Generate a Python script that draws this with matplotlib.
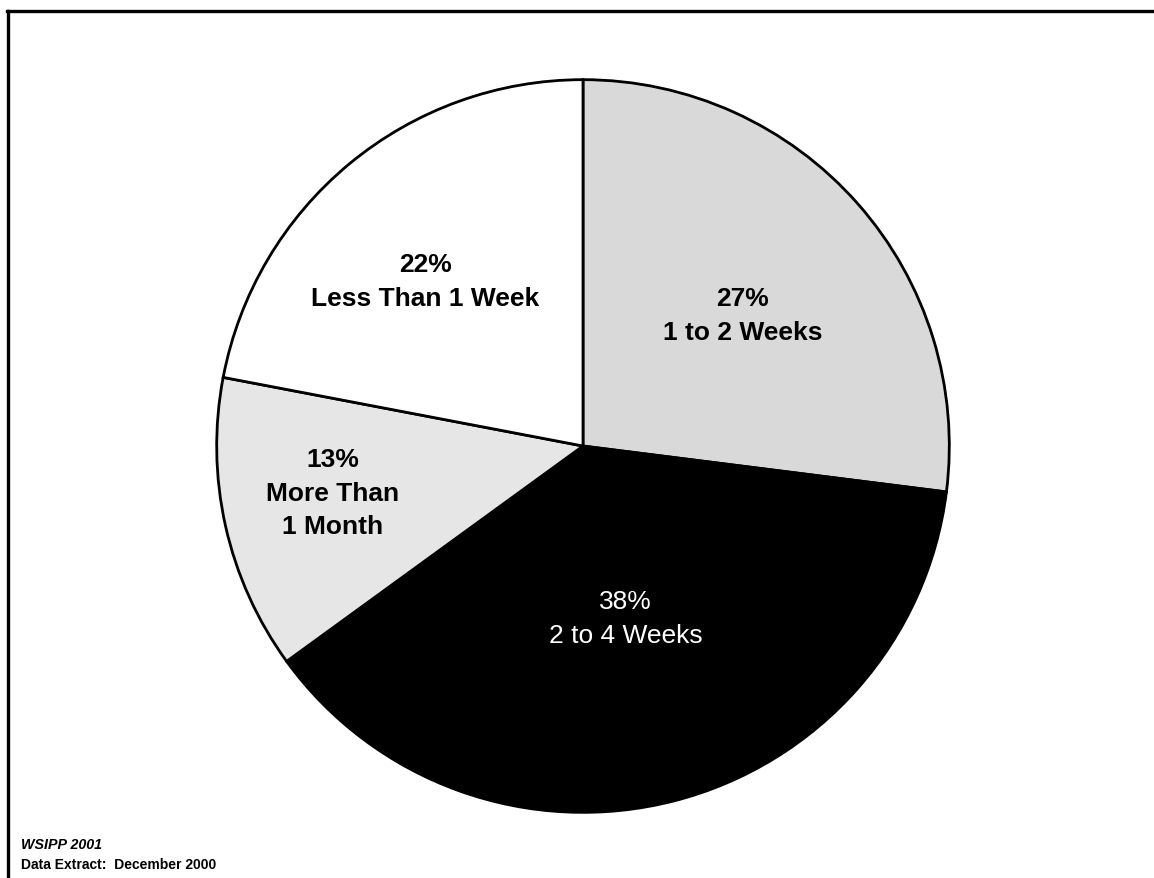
import matplotlib.pyplot as plt
from matplotlib.lines import Line2D

# slice data, clockwise from 12 o'clock
categories = ["1 to 2 Weeks", "2 to 4 Weeks", "More Than\n1 Month", "Less Than 1 Week"]
shares = [27, 38, 13, 22]
colors = ["#d9d9d9", "#000000", "#e6e6e6", "#ffffff"]
text_colors = ["black", "white", "black", "black"]
weights = ["bold", "normal", "bold", "bold"]

# label anchors in pie units (radius = 1)
label_xy = [(0.435, 0.357), (0.116, -0.47), (-0.684, -0.127), (-0.43, 0.45)]

plt.rcParams['font.family'] = ['Liberation Sans', 'DejaVu Sans']

fig = plt.figure(figsize=(11.54, 8.79), dpi=100)
ax = fig.add_axes([0.1846, 0.0705, 0.6412, 0.8419])

wedges, _ = ax.pie(shares, colors=colors, startangle=90, counterclock=False,
                   radius=1, wedgeprops=dict(edgecolor="black", linewidth=2.0))
ax.set_xlim(-1.01, 1.01)
ax.set_ylim(-1.01, 1.01)
ax.set_aspect('auto')
ax.axis('off')

for cat, pct, (x, y), tc, w in zip(categories, shares, label_xy, text_colors, weights):
    ax.text(x, y, f"{pct}%\n{cat}", ha="center", va="center", color=tc,
            fontsize=19, fontweight=w, linespacing=1.5)

# frame lines (top and left only, as in the scan)
fig.add_artist(Line2D([0.006, 1.0], [0.986, 0.986], transform=fig.transFigure,
                      color="black", linewidth=2.4))
fig.add_artist(Line2D([0.007, 0.007], [0.0, 0.986], transform=fig.transFigure,
                      color="black", linewidth=2.4))

fig.text(0.018, 1 - 845 / 879, "WSIPP 2001", fontsize=10.3, fontweight="bold",
         fontstyle="italic", va="center")
fig.text(0.018, 1 - 865 / 879, "Data Extract:  December 2000", fontsize=10,
         fontweight="bold", va="center")

fig.savefig("out.png", dpi=100, facecolor="white")
plt.close(fig)
